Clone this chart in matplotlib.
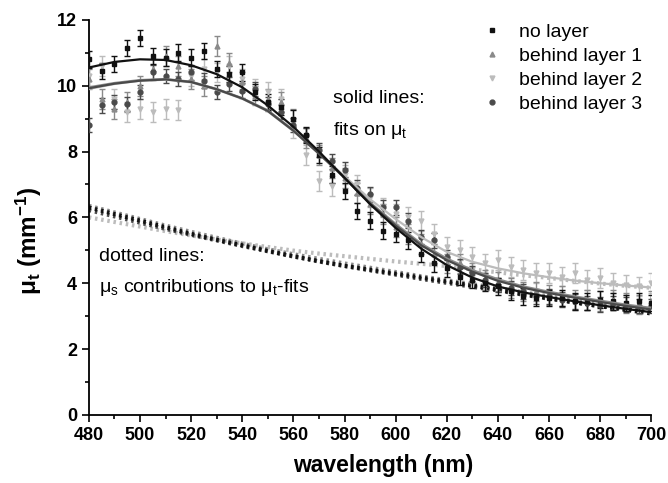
import matplotlib
matplotlib.use('Agg')
import matplotlib.pyplot as plt
import numpy as np
from matplotlib.ticker import MultipleLocator

plt.rcParams['font.family'] = ['Liberation Sans', 'DejaVu Sans']
plt.rcParams['mathtext.fontset'] = 'custom'
plt.rcParams['mathtext.rm'] = 'Liberation Sans'
plt.rcParams['mathtext.it'] = 'Liberation Sans:italic'
plt.rcParams['mathtext.bf'] = 'Liberation Sans:bold'
plt.rcParams['mathtext.default'] = 'rm'

# measured points, every 5 nm
wl = np.arange(480, 701, 5)
no_layer = [10.8, 10.45, 10.65, 11.15, 11.45, 10.9, 10.85, 11.0, 10.85, 11.05,
            10.5, 10.35, 10.4, 9.8, 9.5, 9.35, 9.0, 8.5, 7.9, 7.3,
            6.8, 6.2, 5.9, 5.6, 5.5, 5.3, 4.9, 4.6, 4.45, 4.2,
            4.1, 4.0, 3.9, 3.75, 3.6, 3.55, 3.55, 3.55, 3.45, 3.45,
            3.5, 3.45, 3.4, 3.45, 3.4]
layer1 = [10.2, 9.6, 9.3, 9.5, 10.0, 10.5, 10.9, 10.6, 10.2, 10.0,
          11.2, 10.7, 10.1, 9.7, 9.6, 9.5, 9.0, 8.4, 7.9, 7.5,
          7.2, 6.75, 6.4, 6.1, 5.7, 5.5, 5.2, 4.9, 4.6, 4.6,
          4.3, 4.1, 4.05, 3.85, 3.75, 3.75, 3.65, 3.6, 3.5, 3.5,
          3.45, 3.5, 3.4, 3.35, 3.45]
layer2 = [10.3, 10.6, 9.6, 9.2, 9.3, 9.2, 9.3, 9.25, 10.3, 10.5,
          10.4, 10.6, 10.2, 9.9, 9.8, 9.6, 8.7, 7.9, 7.1, 6.95,
          7.3, 7.0, 6.6, 6.3, 6.1, 6.0, 5.9, 5.5, 5.1, 5.0,
          4.8, 4.6, 4.7, 4.5, 4.4, 4.3, 4.3, 4.2, 4.3, 4.1,
          4.15, 4.0, 3.95, 3.9, 4.0]
layer3 = [8.8, 9.4, 9.5, 9.45, 9.8, 10.4, 10.3, 10.2, 10.4, 10.15,
          9.8, 10.05, 9.85, 9.9, 9.45, 9.2, 8.8, 8.5, 8.05, 7.7,
          7.45, 6.9, 6.7, 6.3, 6.3, 5.9, 5.4, 5.3, 4.8, 4.5,
          4.3, 4.1, 3.95, 3.85, 3.75, 3.6, 3.6, 3.5, 3.45, 3.4,
          3.35, 3.4, 3.35, 3.3, 3.3]
errs = [0.25, 0.3, 0.3, 0.22]

# fits, every 10 nm
wl_fit = np.arange(480, 701, 10)
fit0 = [10.55, 10.72, 10.8, 10.78, 10.62, 10.35, 9.95, 9.4, 8.75, 8.0,
        7.2, 6.4, 5.68, 5.05, 4.55, 4.17, 3.9, 3.72, 3.58, 3.45,
        3.33, 3.22, 3.12]
fit1 = [9.95, 10.08, 10.17, 10.2, 10.12, 9.9, 9.62, 9.25, 8.65, 7.95,
        7.22, 6.45, 5.8, 5.2, 4.75, 4.4, 4.12, 3.9, 3.74, 3.6,
        3.47, 3.35, 3.25]
fit2 = [9.9, 10.05, 10.15, 10.18, 10.1, 9.88, 9.6, 9.22, 8.62, 7.95,
        7.25, 6.55, 5.95, 5.4, 4.95, 4.65, 4.45, 4.3, 4.18, 4.08,
        4.0, 3.93, 3.87]
fit3 = [9.92, 10.06, 10.15, 10.19, 10.11, 9.89, 9.61, 9.23, 8.63, 7.93,
        7.2, 6.42, 5.75, 5.15, 4.7, 4.35, 4.07, 3.86, 3.7, 3.56,
        3.43, 3.31, 3.2]

# scattering contributions
mus0 = [6.3, 6.1, 5.9, 5.7, 5.5, 5.32, 5.15, 4.98, 4.82, 4.67,
        4.53, 4.41, 4.29, 4.17, 4.05, 3.93, 3.8, 3.66, 3.54, 3.42,
        3.3, 3.19, 3.08]
mus1 = [6.35, 6.15, 5.95, 5.75, 5.56, 5.38, 5.2, 5.03, 4.88, 4.74,
        4.6, 4.47, 4.34, 4.21, 4.09, 3.97, 3.85, 3.72, 3.6, 3.48,
        3.36, 3.26, 3.22]
mus2 = [6.0, 5.86, 5.72, 5.58, 5.45, 5.33, 5.21, 5.1, 4.99, 4.9,
        4.82, 4.74, 4.66, 4.59, 4.52, 4.42, 4.33, 4.24, 4.16, 4.07,
        3.99, 3.92, 3.86]
mus3 = [6.22, 6.03, 5.84, 5.65, 5.47, 5.3, 5.13, 4.97, 4.81, 4.66,
        4.52, 4.39, 4.26, 4.13, 4.01, 3.89, 3.78, 3.65, 3.53, 3.41,
        3.3, 3.22, 3.17]

labels = ['no layer', 'behind layer 1', 'behind layer 2', 'behind layer 3']
colors = ['#111111', '#8a8a8a', '#bcbcbc', '#4a4a4a']
markers = ['s', '^', 'v', 'o']

fig = plt.figure(figsize=(6.68, 4.83), dpi=100)
ax = fig.add_axes([0.133, 0.141, 0.842, 0.818])

data = [no_layer, layer1, layer2, layer3]
fits = [fit0, fit1, fit2, fit3]
mus = [mus0, mus1, mus2, mus3]
order = [2, 1, 3, 0]
for i in order:
    ax.plot(wl_fit, mus[i], color=colors[i], lw=3, ls=(0, (0.6, 0.9)), zorder=2)
for i in order:
    ax.errorbar(wl, data[i], yerr=errs[i], fmt=markers[i], color=colors[i],
                ms=3.5, elinewidth=1, capsize=2.5, capthick=1, zorder=3)
for i in order:
    ax.plot(wl_fit, fits[i], color=colors[i], lw=1.6, zorder=4)

handles = [ax.plot([], [], markers[i], color=colors[i], ms=3.5)[0] for i in range(4)]
fig.legend(handles, labels, loc='upper left', bbox_to_anchor=(0.71, 0.968),
           frameon=False, fontsize=14, handletextpad=0.9, labelspacing=0.33,
           handlelength=1.0, borderaxespad=0)

ax.text(575.5, 9.6, 'solid lines:', fontsize=14, va='center')
ax.text(575.5, 8.65, r'fits on $\mu_t$', fontsize=14, va='center')
ax.text(484, 4.8, 'dotted lines:', fontsize=14, va='center')
ax.text(484, 3.88, r'$\mu_s$ contributions to $\mu_t$-fits', fontsize=14, va='center')

ax.set_xlim(480, 700)
ax.set_ylim(0, 12)
ax.xaxis.set_major_locator(MultipleLocator(20))
ax.xaxis.set_minor_locator(MultipleLocator(10))
ax.yaxis.set_major_locator(MultipleLocator(2))
ax.yaxis.set_minor_locator(MultipleLocator(1))
ax.tick_params(which='both', direction='out', width=1.2)
ax.tick_params(which='major', length=5, labelsize=13)
ax.tick_params(which='minor', length=3)
for lab in ax.get_xticklabels() + ax.get_yticklabels():
    lab.set_fontweight('bold')
for s in ['top', 'right']:
    ax.spines[s].set_visible(False)
for s in ['left', 'bottom']:
    ax.spines[s].set_linewidth(1.3)

ax.set_xlabel('wavelength (nm)', fontsize=16.5, fontweight='bold')
ax.set_ylabel(r'$\mathbf{\mu_t\ (mm^{-1})}$', fontsize=17.5)
ax.xaxis.set_label_coords(0.523, -0.1)
ax.yaxis.set_label_coords(-0.08, 0.44)

fig.savefig('out.png', dpi=100)
